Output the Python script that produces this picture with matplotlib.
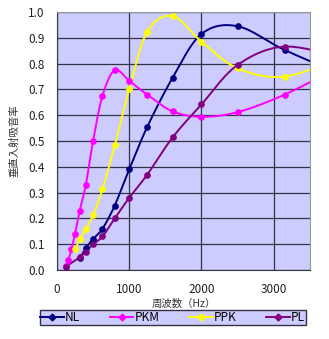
import numpy as np
import matplotlib.pyplot as plt

plt.rcParams['font.family'] = ['Noto Sans CJK JP', 'DejaVu Sans']

# frequencies (Hz) and absorption coefficients
freq_nl = [315, 400, 500, 630, 800, 1000, 1250, 1600, 2000, 2500, 3150, 4000]
nl = [0.045, 0.085, 0.12, 0.16, 0.25, 0.39, 0.555, 0.745, 0.915, 0.945, 0.853, 0.75]

freq_pkm = [125, 160, 200, 250, 315, 400, 500, 630, 800, 1000, 1250, 1600, 2000, 2500, 3150, 4000]
pkm = [0.015, 0.04, 0.08, 0.14, 0.23, 0.33, 0.50, 0.675, 0.775, 0.733, 0.68, 0.615, 0.594, 0.612, 0.68, 0.80]

freq_ppk = [250, 315, 400, 500, 630, 800, 1000, 1250, 1600, 2000, 2500, 3150, 4000]
ppk = [0.08, 0.12, 0.16, 0.213, 0.313, 0.483, 0.70, 0.924, 0.985, 0.885, 0.782, 0.75, 0.83]

freq_pl = [125, 315, 400, 500, 630, 800, 1000, 1250, 1600, 2000, 2500, 3150, 4000]
pl = [0.013, 0.049, 0.071, 0.10, 0.13, 0.20, 0.28, 0.37, 0.514, 0.642, 0.795, 0.866, 0.82]


def smooth(x, y, n=20):
    # Catmull-Rom through the points, done in roughly screen-scaled units
    px = np.asarray(x, float) / 3500 * 253
    py = np.asarray(y, float) * 258
    P = np.column_stack([px, py])
    P = np.vstack([P[0], P, P[-1]])
    out = []
    t = np.linspace(0, 1, n, endpoint=False)[:, None]
    for i in range(1, len(P) - 2):
        p0, p1, p2, p3 = P[i - 1], P[i], P[i + 1], P[i + 2]
        seg = 0.5 * ((2 * p1) + (-p0 + p2) * t + (2 * p0 - 5 * p1 + 4 * p2 - p3) * t ** 2
                     + (-p0 + 3 * p1 - 3 * p2 + p3) * t ** 3)
        out.append(seg)
    out.append(P[-2][None, :])
    out = np.vstack(out)
    return out[:, 0] * 3500 / 253, out[:, 1] / 258


fig = plt.figure(figsize=(3.29, 3.39), dpi=100)
ax = fig.add_axes([0.173, 0.2035, 0.769, 0.761])
ax.set_facecolor('#ccccff')

series = [(freq_nl, nl, '#000080', 'NL'),
          (freq_pkm, pkm, '#ff00ff', 'PKM'),
          (freq_ppk, ppk, '#ffff00', 'PPK'),
          (freq_pl, pl, '#800080', 'PL')]

for fx, fy, c, name in series:
    sx, sy = smooth(fx, fy)
    ax.plot(sx, sy, color=c, lw=1.4, zorder=3)
    ax.plot(fx, fy, 'o', color=c, ms=3.8, zorder=4)
    ax.plot([], [], '-D', color=c, lw=1.4, ms=3.5, label=name)

ax.set_xlim(0, 3500)
ax.set_ylim(0, 1.0)
ax.set_xticks([0, 1000, 2000, 3000])
ax.set_yticks(np.arange(0, 1.01, 0.1))
ax.set_yticklabels(['%.1f' % v for v in np.arange(0, 1.01, 0.1)])
ax.tick_params(length=0, labelsize=8.5, pad=9, colors='#222222')
ax.grid(True, color='#333344', lw=0.9)
ax.set_axisbelow(True)
for s in ax.spines.values():
    s.set_color('#999999')
ax.spines['left'].set_color('#333344')
ax.spines['bottom'].set_color('#333344')

ax.set_xlabel('周波数（Hz）', fontsize=7.5, labelpad=2, color='#333333')
ax.set_ylabel('垂直入射吸音率', fontsize=7.5, labelpad=6, color='#333333')

leg = fig.legend(loc='center', bbox_to_anchor=(0.525, 0.0633), ncol=4, fontsize=8.5,
                 frameon=True, fancybox=False, borderpad=0.05, borderaxespad=0,
                 handlelength=2.0, handletextpad=0.1, columnspacing=2.5)
leg.get_frame().set_facecolor('#ccccff')
leg.get_frame().set_edgecolor('#333344')
leg.get_frame().set_alpha(1)

fig.savefig('out.png', dpi=100)
